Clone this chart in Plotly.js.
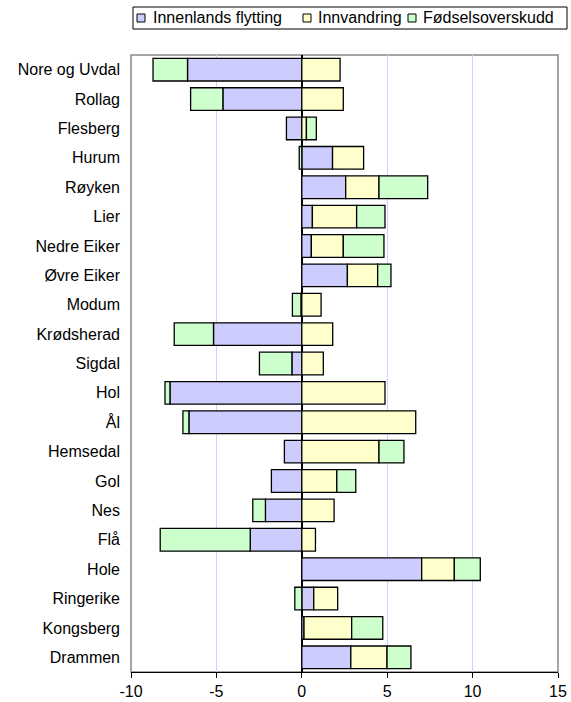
<!DOCTYPE html>
<html>
<head>
<meta charset="utf-8">
<script src="https://cdn.plot.ly/plotly-3.0.1.min.js"></script>
<style>html,body{margin:0;padding:0;background:#fff;}#chart{width:571px;height:702px;}</style>
</head>
<body>
<div id="chart"></div>
<script>
const categories = ["Nore og Uvdal","Rollag","Flesberg","Hurum","Røyken","Lier","Nedre Eiker","Øvre Eiker","Modum","Krødsherad","Sigdal","Hol","Ål","Hemsedal","Gol","Nes","Flå","Hole","Ringerike","Kongsberg","Drammen"];
const innenlands = [-6.69,-4.62,-0.90,1.80,2.57,0.62,0.56,2.67,-0.05,-5.17,-0.58,-7.72,-6.61,-1.02,-1.78,-2.13,-3.02,7.02,0.70,0.13,2.87];
const innvandring = [2.24,2.43,0.27,1.82,1.95,2.59,1.87,1.77,1.13,1.81,1.26,4.87,6.67,4.52,2.05,1.89,0.80,1.91,1.40,2.79,2.12];
const fodsel = [-2.02,-1.89,0.58,-0.15,2.85,1.66,2.38,0.78,-0.50,-2.30,-1.90,-0.29,-0.35,1.46,1.11,-0.74,-5.27,1.52,-0.41,1.82,1.40];
const seriesNames = ["Innenlands flytting","Innvandring","Fødselsoverskudd"];
const seriesColors = ["#ccccff","#ffffcc","#ccffcc"];
const xTicks = [-10,-5,0,5,10,15];

// plot-area geometry (pixels) used to place the hand-drawn legend
const W = 571, H = 702, ML = 131, MR = 13, MT = 55, MB = 30;
const PW = W - ML - MR, PH = H - MT - MB;
const px = p => (p - ML) / PW;
const py = p => (H - MB - p) / PH;

const values = [innenlands, innvandring, fodsel];
const traces = values.map((v,i)=>({
  type:'bar', orientation:'h', name:seriesNames[i], x:v, y:categories,
  marker:{color:seriesColors[i], line:{color:'#000', width:1.3}},
  showlegend:false, hoverinfo:'x+y+name'
}));

const boundaries = [];
for (let k=-0.5; k<=categories.length-0.5; k+=1) boundaries.push(k);

// legend layout
const legSquares = [137, 303, 408];
const legTexts = [151, 316, 421];
const legY = 18;
const shapes = [
  {type:'rect', xref:'paper', yref:'paper', x0:0, x1:1, y0:0, y1:1, line:{color:'#888', width:1.5}, layer:'below'},
  {type:'rect', xref:'paper', yref:'paper', x0:px(133), x1:px(567), y0:py(29), y1:py(7), line:{color:'#000', width:1}, fillcolor:'#fff'}
];
const annotations = [];
seriesNames.forEach((n,i)=>{
  shapes.push({type:'rect', xref:'paper', yref:'paper', x0:px(legSquares[i]), x1:px(legSquares[i]+8),
    y0:py(legY+4), y1:py(legY-4), line:{color:'#000', width:1}, fillcolor:seriesColors[i]});
  annotations.push({xref:'paper', yref:'paper', x:px(legTexts[i]), y:py(legY), xanchor:'left', yanchor:'middle',
    text:n, showarrow:false, font:{size:16, color:'#000'}});
});

const layout = {
  width:W, height:H,
  margin:{l:ML, r:MR, t:MT, b:MB},
  paper_bgcolor:'#fff', plot_bgcolor:'#fff',
  font:{family:'"Liberation Sans", Arial, sans-serif', size:16, color:'#000'},
  barmode:'relative', bargap:0.23,
  showlegend:false,
  xaxis:{range:[-10,15], tickvals:xTicks, ticktext:xTicks.map(String),
    showgrid:true, gridcolor:'#d0d0ff', gridwidth:1,
    zeroline:true, zerolinecolor:'#000', zerolinewidth:1.5,
    showline:true, linecolor:'#000', linewidth:1, ticks:'outside', ticklen:5, tickcolor:'#000',
    tickfont:{size:16}, fixedrange:true, automargin:false},
  yaxis:{type:'category', autorange:'reversed', showgrid:false, zeroline:false,
    showline:false, ticks:'', ticklabelstandoff:10, tickfont:{size:16}, fixedrange:true, automargin:false},
  yaxis2:{overlaying:'y', anchor:'free', position:0.4, side:'left', range:[categories.length-0.5,-0.5],
    tickvals:boundaries, ticks:'outside', ticklen:4, tickcolor:'#000', tickwidth:1,
    showticklabels:false, showgrid:false, zeroline:false, showline:false, fixedrange:true},
  shapes:shapes,
  annotations:annotations
};

Plotly.newPlot('chart', traces, layout, {displayModeBar:false, staticPlot:true});
</script>
</body>
</html>
